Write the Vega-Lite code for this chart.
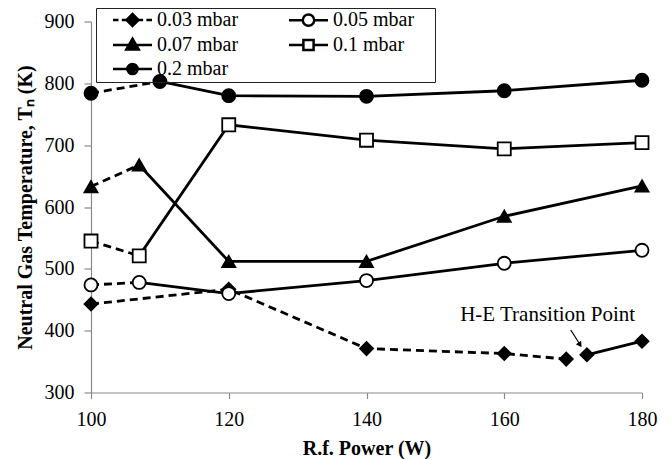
{
  "$schema": "https://vega.github.io/schema/vega-lite/v6.json",
  "width": 551,
  "height": 371,
  "autosize": {"type": "none"},
  "padding": {"left": 91, "top": 21.5, "right": 28, "bottom": 66.5},
  "background": "white",
  "config": {
    "view": {"stroke": null},
    "font": "Liberation Serif",
    "legend": {"labelFont": "Liberation Serif"},
    "axis": {
      "labelFont": "Liberation Serif",
      "titleFont": "Liberation Serif",
      "labelFontSize": 20,
      "titleFontSize": 20,
      "titleFontWeight": "bold",
      "labelColor": "black",
      "titleColor": "black",
      "domainColor": "#8a8a8a",
      "tickColor": "#8a8a8a",
      "domainWidth": 1.2,
      "tickWidth": 1.2,
      "labelFlush": false,
      "labelOverlap": false,
      "grid": false
    }
  },
  "data": {
    "values": [
      {"series": "0.03 mbar", "power": 100, "temp": 443},
      {"series": "0.03 mbar", "power": 120, "temp": 467},
      {"series": "0.03 mbar", "power": 140, "temp": 371},
      {"series": "0.03 mbar", "power": 160, "temp": 363},
      {"series": "0.03 mbar", "power": 169, "temp": 354},
      {"series": "0.03 mbar", "power": 172, "temp": 361},
      {"series": "0.03 mbar", "power": 180, "temp": 383},
      {"series": "0.05 mbar", "power": 100, "temp": 474},
      {"series": "0.05 mbar", "power": 107, "temp": 478},
      {"series": "0.05 mbar", "power": 120, "temp": 460},
      {"series": "0.05 mbar", "power": 140, "temp": 481},
      {"series": "0.05 mbar", "power": 160, "temp": 509},
      {"series": "0.05 mbar", "power": 180, "temp": 530},
      {"series": "0.07 mbar", "power": 100, "temp": 633},
      {"series": "0.07 mbar", "power": 107, "temp": 668},
      {"series": "0.07 mbar", "power": 120, "temp": 512},
      {"series": "0.07 mbar", "power": 140, "temp": 512},
      {"series": "0.07 mbar", "power": 160, "temp": 585},
      {"series": "0.07 mbar", "power": 180, "temp": 634},
      {"series": "0.1 mbar", "power": 100, "temp": 545},
      {"series": "0.1 mbar", "power": 107, "temp": 521},
      {"series": "0.1 mbar", "power": 120, "temp": 733},
      {"series": "0.1 mbar", "power": 140, "temp": 708},
      {"series": "0.1 mbar", "power": 160, "temp": 694},
      {"series": "0.1 mbar", "power": 180, "temp": 704},
      {"series": "0.2 mbar", "power": 100, "temp": 784},
      {"series": "0.2 mbar", "power": 110, "temp": 803},
      {"series": "0.2 mbar", "power": 120, "temp": 780},
      {"series": "0.2 mbar", "power": 140, "temp": 779},
      {"series": "0.2 mbar", "power": 160, "temp": 788},
      {"series": "0.2 mbar", "power": 180, "temp": 805}
    ]
  },
  "resolve": {"scale": {"shape": "independent"}, "legend": {"shape": "independent"}},
  "layer": [
    {
      "data": {"values": [{"note": "H-E Transition Point"}]},
      "mark": {"type": "text", "font": "Liberation Serif", "fontSize": 21, "color": "black", "align": "center", "baseline": "alphabetic"},
      "encoding": {
        "x": {"datum": 166.3, "type": "quantitative", "scale": {"domain": [100, 180], "nice": false, "zero": false}},
        "y": {"datum": 416, "type": "quantitative", "scale": {"domain": [300, 900], "nice": false, "zero": false}},
        "text": {"field": "note"}
      }
    },
    {
      "data": {"values": [{"note": "arrow"}]},
      "mark": {"type": "rule", "color": "black", "strokeWidth": 1.2},
      "encoding": {
        "x": {"datum": 169.65, "type": "quantitative"},
        "y": {"datum": 401, "type": "quantitative"},
        "x2": {"datum": 171.1},
        "y2": {"datum": 376}
      }
    },
    {
      "data": {"values": [{"note": "arrow"}]},
      "mark": {"type": "point", "shape": "triangle-down", "filled": true, "color": "black", "size": 40, "angle": 327, "opacity": 1},
      "encoding": {
        "x": {"datum": 171.0, "type": "quantitative"},
        "y": {"datum": 377, "type": "quantitative"}
      }
    },
    {
      "transform": [{"filter": "datum.power <= (datum.series == '0.03 mbar' ? 169 : 110)"}],
      "mark": {"type": "line", "color": "black", "strokeWidth": 2.8, "strokeDash": [8, 5]},
      "encoding": {
        "x": {"field": "power", "type": "quantitative", "axis": {"title": "R.f. Power (W)", "values": [100, 120, 140, 160, 180], "tickSize": 6, "labelPadding": 11, "titlePadding": 9}},
        "y": {"field": "temp", "type": "quantitative", "axis": {"title": "Neutral Gas Temperature, Tₙ (K)", "values": [300, 400, 500, 600, 700, 800, 900], "tickSize": 7, "labelPadding": 10, "titlePadding": 9}},
        "detail": {"field": "series"}
      }
    },
    {
      "transform": [{"filter": "datum.power >= (datum.series == '0.03 mbar' ? 172 : 107)"}],
      "mark": {"type": "line", "color": "black", "strokeWidth": 2.8},
      "encoding": {
        "x": {"field": "power", "type": "quantitative"},
        "y": {"field": "temp", "type": "quantitative"},
        "detail": {"field": "series"}
      }
    },
    {
      "mark": {"type": "point", "filled": true, "stroke": "black", "strokeWidth": 1.8, "opacity": 1, "size": 170},
      "encoding": {
        "x": {"field": "power", "type": "quantitative"},
        "y": {"field": "temp", "type": "quantitative"},
        "shape": {
          "field": "series",
          "type": "nominal",
          "scale": {"domain": ["0.03 mbar", "0.07 mbar", "0.2 mbar", "0.05 mbar", "0.1 mbar"], "range": ["diamond", "triangle-up", "circle", "circle", "square"]},
          "legend": null
        },
        "fill": {
          "field": "series",
          "type": "nominal",
          "scale": {"domain": ["0.03 mbar", "0.07 mbar", "0.2 mbar", "0.05 mbar", "0.1 mbar"], "range": ["black", "black", "black", "white", "white"]},
          "legend": null
        }
      }
    },
    {
      "transform": [{"filter": "false"}],
      "mark": {"type": "point", "filled": false, "color": "black", "strokeWidth": 2.5, "opacity": 1, "size": 144},
      "encoding": {
        "x": {"field": "power", "type": "quantitative"},
        "y": {"field": "temp", "type": "quantitative"},
        "shape": {
          "field": "series",
          "type": "nominal",
          "scale": {
            "domain": ["0.03 mbar", "0.07 mbar", "0.2 mbar", "0.05 mbar", "0.1 mbar"],
            "range": [
              "M-1.667,0M24,0M0.833,0H1.75M2.3,0H3.083M5.083,0H5.85M6.4,0H7.333M3.083,0H5.083M4.083,-1L5.083,0L4.083,1L3.083,0ZM4.083,-0.6L4.683,0L4.083,0.6L3.483,0ZM4.083,-0.2L4.283,0L4.083,0.2L3.883,0Z",
              "M-1.667,0M24,0M0.833,0H7.333M4.083,-1.05L5.12,0.75L3.046,0.75ZM4.083,-0.59L4.705,0.49L3.461,0.49ZM4.083,-0.13L4.29,0.23L3.876,0.23Z",
              "M-1.667,0M24,0M0.833,0H7.333M4.933,0A0.85,0.85,0,1,1,3.233,0A0.85,0.85,0,1,1,4.933,0ZM4.533,0A0.45,0.45,0,1,1,3.633,0A0.45,0.45,0,1,1,4.533,0ZM4.203,0A0.12,0.12,0,1,1,3.963,0A0.12,0.12,0,1,1,4.203,0Z",
              "M-1.667,0M24,0M0.833,0H3.133M5.033,0H7.333M5.033,0A0.95,0.95,0,1,1,3.133,0A0.95,0.95,0,1,1,5.033,0Z",
              "M-1.667,0M24,0M0.833,0H3.233M4.933,0H7.333M3.233,-0.85H4.933V0.85H3.233Z"
            ]
          },
          "legend": {
            "title": null,
            "orient": "none",
            "legendX": 5,
            "legendY": -13.5,
            "columns": 2,
            "padding": 2,
            "rowPadding": 2,
            "columnPadding": 11,
            "strokeColor": "#222",
            "labelFont": "Liberation Serif",
            "labelFontSize": 20,
            "labelColor": "black",
            "labelOffset": 39,
            "symbolSize": 144,
            "symbolStrokeWidth": 2.5
          }
        }
      }
    }
  ]
}
